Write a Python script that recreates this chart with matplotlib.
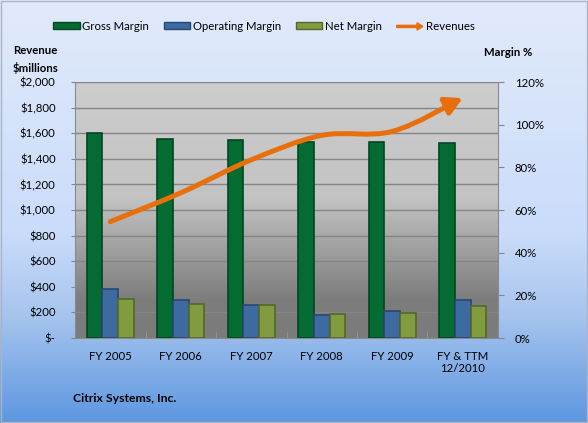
import numpy as np
import matplotlib
matplotlib.use("Agg")
import matplotlib.pyplot as plt
import matplotlib.patches as mpatches
from matplotlib.path import Path
from matplotlib.colors import LinearSegmentedColormap
from matplotlib.legend_handler import HandlerPatch

# data
categories = ["FY 2005", "FY 2006", "FY 2007", "FY 2008", "FY 2009", "FY & TTM\n12/2010"]
revenues = [909, 1134, 1392, 1583, 1614, 1874]          # $ millions (left axis)
gross_margin = [96.0, 93.2, 92.7, 92.1, 91.8, 91.3]     # % (right axis)
operating_margin = [23.2, 17.9, 15.4, 10.7, 12.7, 17.6]
net_margin = [18.3, 16.0, 15.4, 11.3, 11.6, 15.2]

rev_ticks = list(range(0, 2001, 200))
rev_labels = [r"\$-" if v == 0 else r"\$" + f"{v:,}" for v in rev_ticks]
pct_ticks = list(range(0, 121, 20))
pct_labels = [f"{v}%" for v in pct_ticks]

plt.rcParams["font.family"] = ["Lato", "DejaVu Sans"]
plt.rcParams["font.size"] = 8.2

GREEN, GREEN_E = "#046c33", "#02461f"
BLUE, BLUE_E = "#3d6aa1", "#27466e"
OLIVE, OLIVE_E = "#819c3f", "#55682a"
ORANGE = "#e8700c"

fig = plt.figure(figsize=(5.88, 4.23), dpi=100)

# figure background gradient
bg = fig.add_axes([0, 0, 1, 1], zorder=-10)
bg_cmap = LinearSegmentedColormap.from_list(
    "figbg", [(0, "#5d97e0"), (0.25, "#a6c4ee"), (0.45, "#cadcfa"), (1, "#e1eafb")])
bg.imshow(np.linspace(0, 1, 256).reshape(-1, 1), cmap=bg_cmap, aspect="auto",
          origin="lower", extent=[0, 1, 0, 1])
bg.set_axis_off()
fig.patches.append(mpatches.Rectangle((0.001, 0.002), 0.997, 0.995, transform=fig.transFigure,
                                      fill=False, edgecolor="#a9b4c6", lw=1))

rect = [75 / 588, 1 - 338 / 423, 423 / 588, 256 / 423]
ax = fig.add_axes(rect)             # revenue scale, gridlines
ax2 = ax.twinx()                    # margin bars

# plot area gradient
pa_cmap = LinearSegmentedColormap.from_list(
    "plotbg", [(0, "#7b7b7b"), (0.15, "#7d7d7d"), (0.55, "#c3c3c3"), (1, "#cdcdcd")])
ax.imshow(np.linspace(0, 1, 256).reshape(-1, 1), cmap=pa_cmap, aspect="auto",
          origin="lower", extent=[0, 1, 0, 1], transform=ax.transAxes, zorder=0)

x = np.arange(len(categories))
ax.set_xlim(-0.5, len(categories) - 0.5)
ax.set_ylim(0, 2000)
ax.set_yticks(rev_ticks)
ax.set_yticklabels(rev_labels)
for v in rev_ticks[1:]:
    ax.axhline(v, color="#858585", lw=1, zorder=1)

ax2.set_ylim(0, 120)
ax2.set_yticks(pct_ticks)
ax2.set_yticklabels(pct_labels)

w = 0.22
ax2.bar(x - w, gross_margin, w, color=GREEN, edgecolor=GREEN_E, lw=1.2, zorder=2)
ax2.bar(x, operating_margin, w, color=BLUE, edgecolor=BLUE_E, lw=1.2, zorder=2)
ax2.bar(x + w, net_margin, w, color=OLIVE, edgecolor=OLIVE_E, lw=1.2, zorder=2)

# smoothed revenue line (Bezier through the data points) with arrowhead
pts = np.column_stack([x, revenues]).astype(float)
verts = [pts[0]]
codes = [Path.MOVETO]
for i in range(len(pts) - 1):
    p0 = pts[max(i - 1, 0)]
    p1, p2 = pts[i], pts[i + 1]
    p3 = pts[min(i + 2, len(pts) - 1)]
    verts += [p1 + (p2 - p0) / 6, p2 - (p3 - p1) / 6, p2]
    codes += [Path.CURVE4] * 3
arrow = mpatches.FancyArrowPatch(
    path=Path(verts, codes), transform=ax.transData,
    arrowstyle="-|>,head_length=10,head_width=5.5", mutation_scale=1,
    color=ORANGE, lw=3.6, capstyle="round", joinstyle="round", zorder=5)
ax2.add_artist(arrow)

# axes styling
ax.set_xticks(x)
ax.set_xticklabels(categories)
ax.set_xticks(np.arange(-0.5, len(categories), 1), minor=True)
ax.tick_params(axis="x", which="major", length=0, pad=9)
ax.tick_params(axis="x", which="minor", length=4, direction="in", color="#9a9a9a")
ax.tick_params(axis="y", length=3, color="#868686", pad=11)
ax2.tick_params(axis="y", length=4, color="#868686", pad=8)
for a in (ax, ax2):
    for s in a.spines.values():
        s.set_visible(False)
ax.spines["left"].set_visible(True)
ax.spines["left"].set_color("#8a8a8a")
ax.spines["bottom"].set_visible(True)
ax.spines["bottom"].set_color("#8a8a8a")
ax2.spines["right"].set_visible(True)
ax2.spines["right"].set_color("#8a8a8a")

# texts
fig.text(13 / 588, 1 - 45 / 423, "Revenue\n\\$millions", fontweight="bold",
         va="top", ha="left", linespacing=1.6)
fig.text(484 / 588, 1 - 52 / 423, "Margin %", fontweight="bold", va="center", ha="left")
fig.text(73 / 588, 1 - 398 / 423, "Citrix Systems, Inc.", fontweight="bold",
         fontsize=8.8, va="center", ha="left")


# legend
def make_arrow(legend, orig_handle, xdescent, ydescent, width, height, fontsize):
    return mpatches.FancyArrow(0, height / 2, width, 0, width=height * 0.35,
                               head_width=height * 1.2, head_length=height * 0.95,
                               length_includes_head=True, color=ORANGE)


handles = [
    mpatches.Patch(facecolor=GREEN, edgecolor=GREEN_E, label="Gross Margin"),
    mpatches.Patch(facecolor=BLUE, edgecolor=BLUE_E, label="Operating Margin"),
    mpatches.Patch(facecolor=OLIVE, edgecolor=OLIVE_E, label="Net Margin"),
    mpatches.FancyArrow(0, 0, 1, 0, color=ORANGE, label="Revenues"),
]
fig.legend(handles=handles, ncol=4, loc="center", bbox_to_anchor=(264 / 588, 1 - 26 / 423),
           frameon=False, handlelength=2.3, handleheight=0.45, handletextpad=0.25,
           columnspacing=1.3,
           handler_map={mpatches.FancyArrow: HandlerPatch(patch_func=make_arrow)})

fig.savefig("out.png", dpi=100)
